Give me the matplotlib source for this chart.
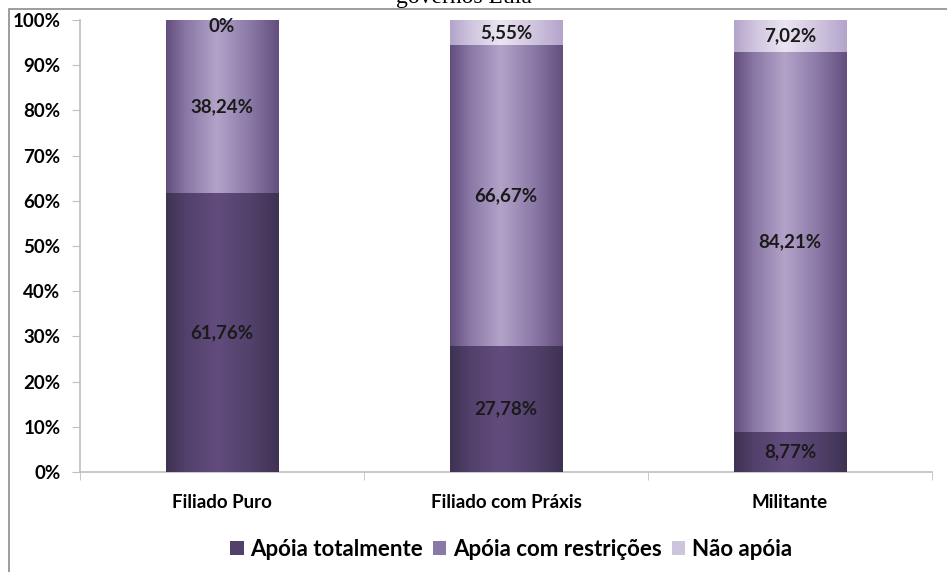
import numpy as np
import matplotlib
matplotlib.use("Agg")
import matplotlib.pyplot as plt
from matplotlib.colors import LinearSegmentedColormap
from matplotlib.patches import Patch, Rectangle

categories = ["Filiado Puro", "Filiado com Práxis", "Militante"]
series_names = ["Apóia totalmente", "Apóia com restrições", "Não apóia"]
apoia_total = [61.76, 27.78, 8.77]
apoia_restr = [38.24, 66.67, 84.21]
nao_apoia = [0.0, 5.55, 7.02]
labels_total = ["61,76%", "27,78%", "8,77%"]
labels_restr = ["38,24%", "66,67%", "84,21%"]
labels_nao = ["0%", "5,55%", "7,02%"]

# (edge, mid, center) tones for the cylinder-like shading
shades = [
    ("#3e3252", "#52416b", "#624c7e"),
    ("#634f7e", "#8a78a6", "#b3a3c8"),
    ("#b3a4ca", "#cfc4de", "#ebe5f2"),
]

plt.rcParams['font.family'] = ['Lato', 'DejaVu Sans']

fig = plt.figure(figsize=(9.47, 5.72), dpi=100)
ax = fig.add_axes([80 / 947, 1 - 472 / 572, 852 / 947, 452 / 572])

x = np.arange(len(categories))
width = 0.395
bottoms = np.zeros(len(categories))
all_vals = [apoia_total, apoia_restr, nao_apoia]
all_labels = [labels_total, labels_restr, labels_nao]

grad = np.linspace(0, 1, 256).reshape(1, -1)
for vals, labs, (c0, c1, c2), name in zip(all_vals, all_labels, shades, series_names):
    cmap = LinearSegmentedColormap.from_list(
        name, [(0, c0), (0.18, c1), (0.45, c2), (0.75, c1), (1, c0)])
    bars = ax.bar(x, vals, width, bottom=bottoms, color=c1, edgecolor="none", zorder=2)
    for b in bars:
        if b.get_height() <= 0:
            continue
        bx, by = b.get_x(), b.get_y()
        im = ax.imshow(grad, cmap=cmap, aspect="auto", zorder=3,
                       extent=[bx, bx + b.get_width(), by, by + b.get_height()])
        im.set_clip_path(b)
    for xi, v, bt, lab in zip(x, vals, bottoms, labs):
        ax.text(xi, bt + v / 2 if v > 0 else bt - 1.5, lab, ha="center", va="center",
                fontsize=13.5, fontweight="bold", color="#1a1a1a", zorder=5)
    bottoms = bottoms + np.array(vals)

ax.set_xlim(-0.5, len(categories) - 0.5)
ax.set_ylim(0, 100)
ax.set_yticks(np.arange(0, 101, 10))
ax.set_yticklabels([f"{v}%" for v in range(0, 101, 10)], fontsize=13.5, fontweight="bold")
ax.set_xticks(x)
ax.set_xticklabels(categories, fontsize=13.5, fontweight="bold")
ax.set_xticks(np.arange(-0.5, len(categories), 1), minor=True)
ax.tick_params(axis="x", which="major", length=0, pad=16)
ax.tick_params(axis="x", which="minor", length=6, color="#bfbfbf", direction="out")
ax.tick_params(axis="y", length=6, color="#bfbfbf", pad=8)
for s in ["top", "right"]:
    ax.spines[s].set_visible(False)
for s in ["left", "bottom"]:
    ax.spines[s].set_color("#bfbfbf")
    ax.spines[s].set_linewidth(1.2)

handles = [Patch(facecolor=c[1], edgecolor="none") for c in shades]
fig.legend(handles, series_names, loc="center", bbox_to_anchor=(511 / 947, 1 - 549 / 572),
           ncol=3, frameon=False, prop={"weight": "bold", "size": 16},
           handlelength=0.6, handleheight=0.6, handletextpad=0.3, columnspacing=0.45)

# chart frame and title (cut by the top edge, as in the source)
fig.add_artist(Rectangle((9 / 947, -0.05), 1.0, 1 - 8.5 / 572 + 0.05, transform=fig.transFigure,
                         fill=False, edgecolor="#8c8c8c", linewidth=1.2))
fig.text(464 / 947, 1 - 2.5 / 572, "governos Lula", ha="center", va="baseline",
         fontsize=17, family="Liberation Serif")

fig.savefig("out.png", dpi=100)
